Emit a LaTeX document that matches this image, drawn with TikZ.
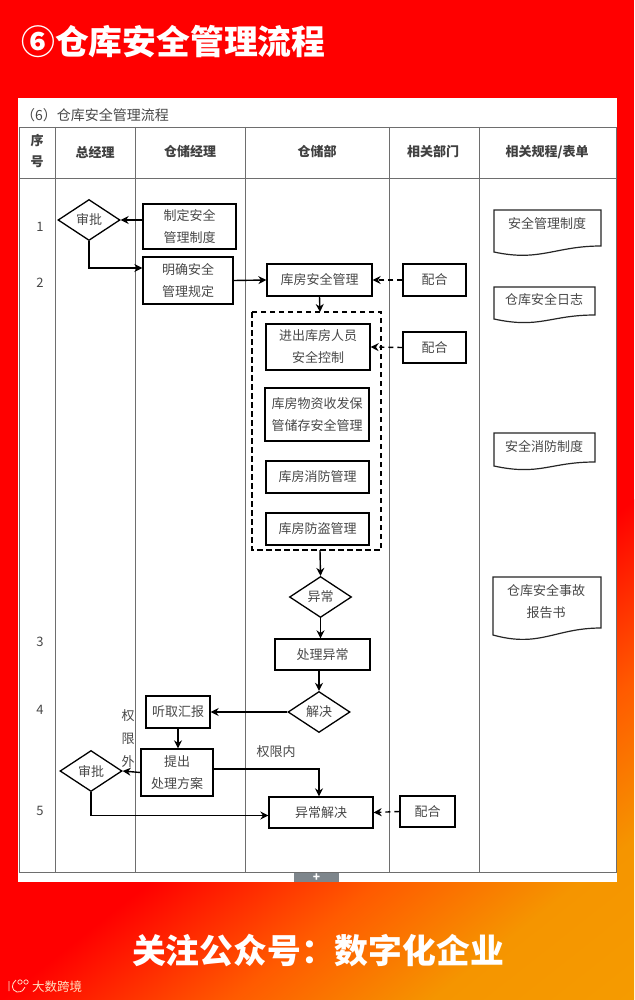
\documentclass[tikz,border=0pt]{standalone}
\usepackage{fontspec}
\usepackage{xcolor}
\usetikzlibrary{shapes.geometric, arrows.meta, positioning}
\newfontfamily\cjk{Noto Sans CJK SC}
\definecolor{BannerRed}{HTML}{FF0000}
\definecolor{BannerMid}{HTML}{FF5A00}
\definecolor{BannerOrange}{HTML}{F59500}
\definecolor{BannerEnd}{HTML}{F59B00}
\definecolor{GridGray}{HTML}{6E6E6E}
\definecolor{InkGray}{HTML}{484848}
\definecolor{BarGray}{HTML}{7E868C}
\pgfdeclarehorizontalshading{bannerfade}{100bp}{
    color(0bp)=(BannerRed); color(25bp)=(BannerRed); color(43bp)=(BannerMid);
    color(59bp)=(BannerOrange); color(75bp)=(BannerEnd); color(100bp)=(BannerEnd)}
\tikzset{
    % Box styles
    stepbox/.style={
        rectangle,
        draw=black,
        fill=white,
        line width=1.3pt,
        inner sep=0pt,
        align=center,
        text=InkGray,
        font=\cjk\fontsize{13}{22}\selectfont
    },
    decision/.style={
        diamond,
        draw=black,
        fill=white,
        line width=1.3pt,
        inner sep=0pt,
        minimum width=62pt,
        minimum height=41pt,
        text=InkGray,
        font=\cjk\fontsize{13}{15}\selectfont
    },
    doctext/.style={
        align=center,
        inner sep=0pt,
        text=InkGray,
        font=\cjk\fontsize{13}{22}\selectfont
    },
    headtext/.style={
        inner sep=0pt,
        align=center,
        text=black!75,
        font=\cjk\bfseries\fontsize{13}{21}\selectfont
    },
    plaintext/.style={
        inner sep=0pt,
        align=center,
        text=InkGray,
        font=\cjk\fontsize{13}{23}\selectfont
    },
    bannertext/.style={
        inner sep=0pt,
        text=white,
        font=\cjk\bfseries\fontsize{33.8}{36}\selectfont
    },
    % Arrow styles
    arrow/.style={
        -{Stealth[length=8pt,width=8pt]},
        line width=1.4pt,
        draw=black
    },
    dashedarrow/.style={
        -{Stealth[length=8pt,width=8pt]},
        line width=1.4pt,
        draw=black,
        dash pattern=on 5pt off 4pt
    },
    grid/.style={
        line width=0.9pt,
        draw=GridGray
    },
    docline/.style={
        line width=1.2pt,
        draw=black!85
    }
}
\begin{document}
\begin{tikzpicture}[x=1pt, y=-1pt]
    \useasboundingbox (0,0) rectangle (634,1000);
    % Background
    \fill[BannerRed] (0,0) rectangle (634,1000);
    \begin{scope}
        \clip (0,0) rectangle (634,1000);
        \begin{scope}[transform canvas={rotate=-51.7}]
            \shade[shading=bannerfade] (785pt,-1000pt) rectangle (1178pt,1000pt);
        \end{scope}
    \end{scope}
    \fill[white] (18,98) rectangle (617,882);
    \fill[BarGray] (294,873) rectangle (339,882);
    \node[inner sep=0pt, text=white, font=\cjk\bfseries\fontsize{12}{12}\selectfont] (plus) at (316.5,877.5) {+};

    % Banner texts
    \node[bannertext, anchor=west] (title) at (21,42) {⑥仓库安全管理流程};
    \node[bannertext, anchor=center] (follow) at (318,951) {关注公众号：数字化企业};
    \node[inner sep=0pt, anchor=west, text=white!75!orange, font=\cjk\fontsize{12.5}{13}\selectfont] (mark) at (32,987) {大数跨境};
    \draw[white!80!orange, line width=0.8pt] (9,981) -- (9,991) (16,980) .. controls (11,984) and (11,990) .. (17,992) .. controls (22,992) and (24,990) .. (25,987);
    \draw[white!80!orange, line width=0.7pt] (20,982) circle (2.2pt) (26,982) circle (2.2pt);

    % Table
    \node[plaintext, anchor=west, font=\cjk\fontsize{14}{16}\selectfont] (caption) at (21,115) {（6）仓库安全管理流程};
    \draw[grid] (19,127) rectangle (616,872);
    \draw[grid] (19,178) -- (616,178);
    \draw[grid] (55,127) -- (55,872);
    \draw[grid] (135,127) -- (135,872);
    \draw[grid] (245,127) -- (245,872);
    \draw[grid] (389,127) -- (389,872);
    \draw[grid] (479,127) -- (479,872);

    \node[headtext] (hnum) at (37,151) {序\\号};
    \node[headtext] (hgm) at (95,152) {总经理};
    \node[headtext] (hwm) at (190,152) {仓储经理};
    \node[headtext] (hwd) at (317,152) {仓储部};
    \node[headtext] (hrel) at (433,152) {相关部门};
    \node[headtext] (hdoc) at (547,152) {相关规程/表单};

    \node[plaintext] (n1) at (40,227) {1};
    \node[plaintext] (n2) at (40,283) {2};
    \node[plaintext] (n3) at (40,642) {3};
    \node[plaintext] (n4) at (40,710) {4};
    \node[plaintext] (n5) at (40,811) {5};

    % Flow nodes
    \node[decision] (appr1) at (89,220) {审批};
    \node[stepbox, minimum width=93pt, minimum height=45pt] (policy) at (189.5,226.5) {制定安全\\管理制度};
    \node[stepbox, minimum width=90pt, minimum height=47pt] (rules) at (188,280.5) {明确安全\\管理规定};
    \node[stepbox, minimum width=105pt, minimum height=32pt] (safety) at (319.5,280) {库房安全管理};
    \node[stepbox, minimum width=63pt, minimum height=32pt] (help1) at (434.5,280) {配合};
    \node[stepbox, minimum width=104pt, minimum height=46pt] (people) at (318,347) {进出库房人员\\安全控制};
    \node[stepbox, minimum width=63pt, minimum height=31pt] (help2) at (434.5,347.5) {配合};
    \node[stepbox, minimum width=104pt, minimum height=53pt] (goods) at (317,414.5) {库房物资收发保\\管储存安全管理};
    \node[stepbox, minimum width=103pt, minimum height=32pt] (fire) at (317.5,477) {库房消防管理};
    \node[stepbox, minimum width=103pt, minimum height=32pt] (theft) at (317.5,529) {库房防盗管理};
    \draw[line width=1.3pt, dash pattern=on 5.5pt off 3.5pt] (252,312) rectangle (381,550);
    \coordinate (zonetop) at (320,312);
    \coordinate (zonebot) at (320,550);

    \node[decision] (fault) at (320.5,597) {异常};
    \node[stepbox, minimum width=95pt, minimum height=31pt] (handle) at (322.5,654.5) {处理异常};
    \node[decision] (solve) at (319,712) {解决};
    \node[stepbox, minimum width=64pt, minimum height=32pt] (report) at (178,712) {听取汇报};
    \node[stepbox, minimum width=72pt, minimum height=47pt] (propose) at (177,772.5) {提出\\处理方案};
    \node[decision] (appr2) at (91,771) {审批};
    \node[stepbox, minimum width=104pt, minimum height=31pt] (done) at (321,812.5) {异常解决};
    \node[stepbox, minimum width=55pt, minimum height=31pt] (help3) at (427.5,811.5) {配合};

    \node[plaintext] (outside) at (128,739) {权\\限\\外};
    \node[plaintext] (inside) at (276,752) {权限内};

    % Connectors
    \draw[arrow] (policy.west |- appr1.east) -- (appr1.east);
    \draw[arrow] (appr1.south) |- ([yshift=12.5pt]rules.west);
    \draw[arrow] (rules.east) -- (safety.west);
    \draw[dashedarrow] (help1.west) -- (safety.east);
    \draw[arrow] (safety.south) -- (zonetop);
    \draw[dashedarrow] (help2.west) -- (people.east);
    \draw[arrow] (zonebot) -- (fault.north);
    \draw[arrow] (fault.south) -- (fault.south |- handle.north);
    \draw[arrow] (solve.north |- handle.south) -- (solve.north);
    \draw[arrow] (solve.west) -- (report.east);
    \draw[arrow] (report.south) -- (report.south |- propose.north);
    \draw[arrow] (propose.west) -- (appr2.east);
    \draw[arrow] ([yshift=3.5pt]propose.east) -| ([xshift=-2pt]done.north);
    \draw[arrow] (appr2.south) |- ([yshift=-3pt]done.west);
    \draw[dashedarrow] (help3.west) -- (done.east);

    % Document shapes
    \draw[docline, fill=white] (494,210) -- (601,210) -- (601,246) .. controls (555,246) and (540,262) .. (494,252) -- cycle;
    \node[doctext] (doc1) at (547,223) {安全管理制度};
    \draw[docline, fill=white] (494,287) -- (595,287) -- (595,315) .. controls (550,315) and (540,329) .. (494,319) -- cycle;
    \node[doctext] (doc2) at (544,300) {仓库安全日志};
    \draw[docline, fill=white] (494,433) -- (595,433) -- (595,462) .. controls (550,462) and (540,476) .. (494,466) -- cycle;
    \node[doctext] (doc3) at (544,446) {安全消防制度};
    \draw[docline, fill=white] (493,577) -- (601,577) -- (601,628) .. controls (555,628) and (540,648) .. (493,635) -- cycle;
    \node[doctext] (doc4) at (546,602) {仓库安全事故\\报告书};
\end{tikzpicture}
\end{document}
